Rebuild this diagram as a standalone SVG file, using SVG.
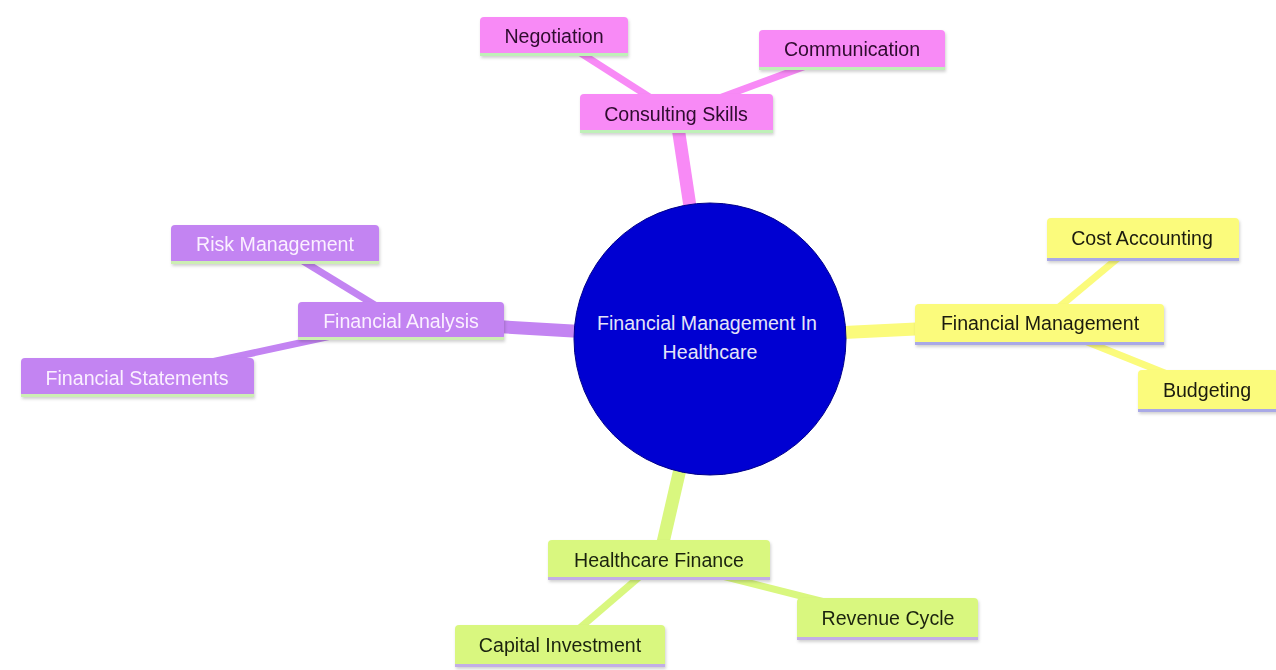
<svg xmlns="http://www.w3.org/2000/svg" width="1276" height="670" viewBox="0 0 1276 670">
<defs>
<filter id="sh" x="-10%" y="-20%" width="120%" height="150%">
<feDropShadow dx="1" dy="2" stdDeviation="1.5" flood-color="#000" flood-opacity="0.18"/>
</filter>
<style>
text{font-family:"Liberation Sans",Arial,sans-serif;font-size:19.6px;text-anchor:middle;dominant-baseline:central}
.e0{stroke-width:13;fill:none}
.e1{stroke-width:7;fill:none}
.pk{fill:#f88af6}.pkl{fill:#bff0b8}.pkt{fill:#2e0a2e}.pke{stroke:#f88af6}
.pu{fill:#c384f2}.pul{fill:#cdeeb4}.put{fill:#fbf0ff}.pue{stroke:#c384f2}
.ye{fill:#fbfb7c}.yel{fill:#a9a9e6}.yet{fill:#1a1a10}.yee{stroke:#fbfb7c}
.gr{fill:#d9f77f}.grl{fill:#c2aee6}.grt{fill:#1b2410}.gre{stroke:#d9f77f}
</style>
</defs>
<rect width="1276" height="670" fill="#ffffff"/>
<g id="connectors">
<line class="e0 pke" x1="710" y1="339" x2="676" y2="114"/>
<line class="e1 pke" x1="676" y1="114" x2="554" y2="36"/>
<line class="e1 pke" x1="676" y1="114" x2="852" y2="49"/>
<line class="e0 pue" x1="710" y1="339" x2="401" y2="321"/>
<line class="e1 pue" x1="401" y1="321" x2="275" y2="244"/>
<line class="e1 pue" x1="401" y1="321" x2="137" y2="378"/>
<line class="e0 yee" x1="710" y1="339" x2="1040" y2="323"/>
<line class="e1 yee" x1="1040" y1="323" x2="1142" y2="238"/>
<line class="e1 yee" x1="1040" y1="323" x2="1207" y2="390"/>
<line class="e0 gre" x1="710" y1="339" x2="659" y2="560"/>
<line class="e1 gre" x1="659" y1="560" x2="888" y2="618"/>
<line class="e1 gre" x1="659" y1="560" x2="560" y2="645"/>
</g>
<g id="root">
<circle cx="710" cy="339" r="136" fill="#0000d2" stroke="#00008a" stroke-width="1"/>
<text x="707" y="323" fill="#e4e4f8">Financial Management In</text>
<text x="710" y="352" fill="#e4e4f8">Healthcare</text>
</g>
<g id="consulting-skills" filter="url(#sh)">
<rect class="pk" x="580" y="94" width="193" height="39" rx="4"/>
<rect class="pkl" x="580" y="130" width="193" height="3"/>
<text class="pkt" x="676" y="114">Consulting Skills</text>
</g>
<g id="negotiation" filter="url(#sh)">
<rect class="pk" x="480" y="17" width="148" height="39" rx="4"/>
<rect class="pkl" x="480" y="53" width="148" height="3"/>
<text class="pkt" x="554" y="36">Negotiation</text>
</g>
<g id="communication" filter="url(#sh)">
<rect class="pk" x="759" y="30" width="186" height="40" rx="4"/>
<rect class="pkl" x="759" y="67" width="186" height="3"/>
<text class="pkt" x="852" y="49">Communication</text>
</g>
<g id="financial-analysis" filter="url(#sh)">
<rect class="pu" x="298" y="302" width="206" height="38" rx="4"/>
<rect class="pul" x="298" y="337" width="206" height="3"/>
<text class="put" x="401" y="321">Financial Analysis</text>
</g>
<g id="risk-management" filter="url(#sh)">
<rect class="pu" x="171" y="225" width="208" height="39" rx="4"/>
<rect class="pul" x="171" y="261" width="208" height="3"/>
<text class="put" x="275" y="244">Risk Management</text>
</g>
<g id="financial-statements" filter="url(#sh)">
<rect class="pu" x="21" y="358" width="233" height="39" rx="4"/>
<rect class="pul" x="21" y="394" width="233" height="3"/>
<text class="put" x="137" y="378">Financial Statements</text>
</g>
<g id="financial-management" filter="url(#sh)">
<rect class="ye" x="915" y="304" width="249" height="41" rx="4"/>
<rect class="yel" x="915" y="342" width="249" height="3"/>
<text class="yet" x="1040" y="323">Financial Management</text>
</g>
<g id="cost-accounting" filter="url(#sh)">
<rect class="ye" x="1047" y="218" width="192" height="43" rx="4"/>
<rect class="yel" x="1047" y="258" width="192" height="3"/>
<text class="yet" x="1142" y="238">Cost Accounting</text>
</g>
<g id="budgeting" filter="url(#sh)">
<rect class="ye" x="1138" y="370" width="140" height="42" rx="4"/>
<rect class="yel" x="1138" y="409" width="140" height="3"/>
<text class="yet" x="1207" y="390">Budgeting</text>
</g>
<g id="healthcare-finance" filter="url(#sh)">
<rect class="gr" x="548" y="540" width="222" height="40" rx="4"/>
<rect class="grl" x="548" y="577" width="222" height="3"/>
<text class="grt" x="659" y="560">Healthcare Finance</text>
</g>
<g id="revenue-cycle" filter="url(#sh)">
<rect class="gr" x="797" y="598" width="181" height="42" rx="4"/>
<rect class="grl" x="797" y="637" width="181" height="3"/>
<text class="grt" x="888" y="618">Revenue Cycle</text>
</g>
<g id="capital-investment" filter="url(#sh)">
<rect class="gr" x="455" y="625" width="210" height="42" rx="4"/>
<rect class="grl" x="455" y="664" width="210" height="3"/>
<text class="grt" x="560" y="645">Capital Investment</text>
</g>
</svg>
